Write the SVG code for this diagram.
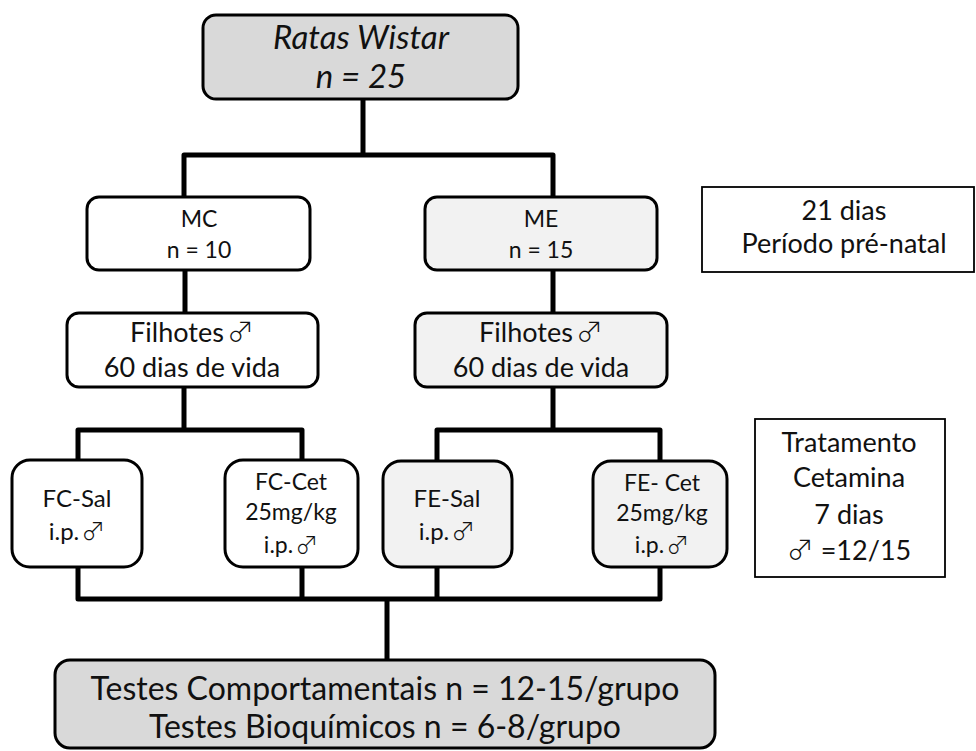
<svg xmlns="http://www.w3.org/2000/svg" width="976" height="751" viewBox="0 0 976 751">
<style>
text { font-family: Lato, "Liberation Sans", sans-serif; fill: #111; text-anchor: middle; }
.box { stroke: #000; stroke-width: 3; }
.g1 { fill: #d9d9d9; }
.g2 { fill: #f2f2f2; }
.w { fill: #fff; }
.side { fill: #fff; stroke: #000; stroke-width: 1.8; }
.conn { fill: none; stroke: #000; stroke-width: 5; stroke-linejoin: round; stroke-linecap: square; }
.sym { font-family: "Noto Sans CJK JP", "DejaVu Sans", sans-serif; font-weight: 300; }
</style>
<rect width="976" height="751" fill="#fff"/>
<g id="connectors">
  <path class="conn" d="M363,99 V155 M184,197 V155 H553 V197"/>
  <path class="conn" d="M185,270 V313 M553,270 V313"/>
  <path class="conn" d="M184,387 V430 M78,460 V430 H302 V460"/>
  <path class="conn" d="M553,387 V430 M437,461 V430 H660 V461"/>
  <path class="conn" d="M78,567 V599 H660 V567 M302,567 V599 M437,567 V599 M387,599 V660"/>
</g>
<g id="ratas">
  <rect class="box g1" x="203" y="15" width="315" height="84" rx="13"/>
  <text x="361" y="49" font-size="33" font-style="italic">Ratas Wistar</text>
  <text x="361" y="88" font-size="33" font-style="italic">n = 25</text>
</g>
<g id="mc">
  <rect class="box w" x="87" y="197" width="223" height="73" rx="12"/>
  <text x="199" y="227" font-size="23">MC</text>
  <text x="199" y="258" font-size="23">n = 10</text>
</g>
<g id="me">
  <rect class="box g2" x="425" y="197" width="232" height="73" rx="12"/>
  <text x="541" y="227" font-size="23">ME</text>
  <text x="541" y="258" font-size="23">n = 15</text>
</g>
<g id="prenatal">
  <rect class="side" x="702" y="187" width="272" height="85"/>
  <text x="844" y="220" font-size="27">21 dias</text>
  <text x="844" y="253" font-size="27">Período pré-natal</text>
</g>
<g id="filhotes-c">
  <rect class="box w" x="67" y="313" width="251" height="74" rx="12"/>
  <text x="192" y="342" font-size="27">Filhotes<tspan class="sym" font-size="27" dx="3">♂</tspan></text>
  <text x="192" y="377" font-size="27">60 dias de vida</text>
</g>
<g id="filhotes-e">
  <rect class="box g2" x="415" y="313" width="252" height="74" rx="12"/>
  <text x="541" y="342" font-size="27">Filhotes<tspan class="sym" font-size="27" dx="3">♂</tspan></text>
  <text x="541" y="377" font-size="27">60 dias de vida</text>
</g>
<g id="fc-sal">
  <rect class="box w" x="12" y="460" width="130" height="107" rx="18"/>
  <text x="77" y="507" font-size="24">FC-Sal</text>
  <text x="77" y="540" font-size="24">i.p.<tspan class="sym" font-size="24" dx="2">♂</tspan></text>
</g>
<g id="fc-cet">
  <rect class="box w" x="225" y="460" width="133" height="107" rx="18"/>
  <text x="291" y="490" font-size="23">FC-Cet</text>
  <text x="291" y="520" font-size="23">25mg/kg</text>
  <text x="291" y="553" font-size="23">i.p.<tspan class="sym" font-size="23" dx="2">♂</tspan></text>
</g>
<g id="fe-sal">
  <rect class="box g2" x="383" y="461" width="129" height="106" rx="18"/>
  <text x="447" y="507" font-size="24">FE-Sal</text>
  <text x="447" y="540" font-size="24">i.p.<tspan class="sym" font-size="24" dx="2">♂</tspan></text>
</g>
<g id="fe-cet">
  <rect class="box g2" x="593" y="461" width="134" height="106" rx="18"/>
  <text x="662" y="491" font-size="23">FE- Cet</text>
  <text x="662" y="521" font-size="23">25mg/kg</text>
  <text x="662" y="553" font-size="23">i.p.<tspan class="sym" font-size="23" dx="2">♂</tspan></text>
</g>
<g id="tratamento">
  <rect class="side" x="755" y="419" width="190" height="158"/>
  <text x="849" y="452" font-size="27">Tratamento</text>
  <text x="849" y="487" font-size="27">Cetamina</text>
  <text x="849" y="524" font-size="27">7 dias</text>
  <text x="849" y="560" font-size="27"><tspan class="sym" font-size="27">♂</tspan> =12/15</text>
</g>
<g id="testes">
  <rect class="box g1" x="55" y="660" width="660" height="88" rx="15"/>
  <text x="385" y="700" font-size="32">Testes Comportamentais n = 12-15/grupo</text>
  <text x="385" y="738" font-size="32">Testes Bioquímicos n = 6-8/grupo</text>
</g>
</svg>
